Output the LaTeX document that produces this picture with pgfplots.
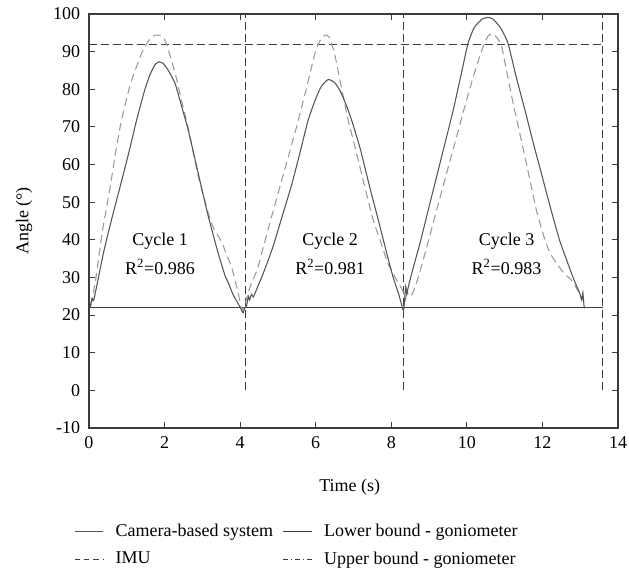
\documentclass[border=0pt]{standalone}
\usepackage{fontspec}
\setmainfont{Liberation Serif}
\usepackage{pgfplots}
\pgfplotsset{compat=1.18}
\definecolor{cam}{HTML}{555555}
\definecolor{imu}{HTML}{9A9A9A}
\definecolor{axc}{HTML}{3C3C3C}
\newcommand{\fs}{\fontsize{13.5}{16}\selectfont}
\begin{document}
\fs
\begin{tikzpicture}
\begin{axis}[
  scale only axis, width=396.75pt, height=310.5pt,
  xmin=0, xmax=14, ymin=-10, ymax=100,
  xtick={0,2,...,14}, ytick={-10,0,...,100},
  tick align=inside, major tick length=4.5pt,
  axis line style={axc, line width=0.9pt},
  tick style={axc, line width=0.8pt},
  /pgf/number format/assume math mode=true,
  ticklabel style={font=\fs},
  yticklabel style={xshift=-2pt},
  xticklabel style={yshift=-2pt},
  xlabel={Time (s)}, ylabel={Angle (°)},
  label style={font=\fs},
  xlabel style={at={(axis description cs:0.493,-0.1425)}, anchor=center},
  ylabel style={at={(axis description cs:-0.1229,0.5)}, anchor=center},
  legend columns=2,
  legend cell align=left,
  legend style={draw=none, fill=none, at={(axis description cs:-0.036,-0.218)}, anchor=north west, font=\fs,
    /tikz/every odd column/.append style={column sep=7pt},
    /tikz/every even column/.append style={column sep=5pt},
    row sep=5.5pt},
  legend image code/.code={\draw[#1] (0cm,0cm) -- (0.75cm,0cm);},
]
\addlegendimage{cam, line width=0.8pt}
\addlegendentry{Camera-based system}
\addlegendimage{axc, line width=0.8pt}
\addlegendentry{Lower bound - goniometer}
\addlegendimage{axc, line width=0.8pt, dash pattern=on 4pt off 3pt}
\addlegendentry{IMU}
\addlegendimage{axc, line width=0.8pt, dash pattern=on 4pt off 2pt on 1pt off 2pt}
\addlegendentry{Upper bound - goniometer}

% bounds and cycle separators
\addplot[forget plot, axc, line width=0.9pt] coordinates {(0,22) (13.6,22)};
\addplot[forget plot, axc, line width=0.9pt, dash pattern=on 6pt off 3pt] coordinates {(0,92) (13.6,92)};
\addplot[forget plot, axc, line width=0.9pt, dash pattern=on 6pt off 3pt] coordinates {(4.15,0) (4.15,100)};
\addplot[forget plot, axc, line width=0.9pt, dash pattern=on 6pt off 3pt] coordinates {(8.32,0) (8.32,100)};
\addplot[forget plot, axc, line width=0.9pt, dash pattern=on 6pt off 3pt] coordinates {(13.6,0) (13.6,100)};

% IMU
\addplot[forget plot, imu, line width=0.8pt, dash pattern=on 6pt off 3.5pt, smooth, tension=0.3] coordinates {
(0.05,22.5) (0.1,25.0) (0.2,31.0) (0.35,42.0) (0.56,54.0) (0.7,63.0) (0.86,71.8) (1.1,81.5) (1.39,89.5)
(1.6,93.2) (1.75,94.4) (1.88,94.3) (1.98,93.6) (2.07,91.5) (2.28,84.3) (2.45,77.0) (2.63,69.5) (2.89,57.0)
(3.05,51.0) (3.16,47.0) (3.3,43.0) (3.51,39.5) (3.65,35.8) (3.77,32.9) (3.87,29.0) (3.95,25.8) (4.02,22.5)
(4.07,21.3) (4.12,22.5) (4.2,25.5) (4.3,28.5) (4.45,32.0) (4.57,36.4) (4.8,45.0) (5.05,54.0) (5.3,63.0)
(5.54,71.8) (5.76,80.5) (5.98,89.5) (6.12,93.0) (6.25,94.4) (6.35,94.0) (6.42,92.0) (6.51,89.0) (6.68,80.5)
(6.86,71.8) (7.08,63.0) (7.3,54.0) (7.52,45.3) (7.7,40.0) (7.9,34.0) (8.1,30.0) (8.25,27.5) (8.35,25.5)
(8.38,24.0) (8.41,27.0) (8.45,25.0) (8.55,25.5) (8.72,30.2) (8.95,38.5) (9.2,47.9) (9.44,56.8) (9.68,65.6)
(9.92,74.5) (10.17,83.3) (10.4,90.5) (10.55,94.0) (10.65,94.7) (10.75,94.2) (10.85,93.0) (10.92,91.5)
(11.0,87.5) (11.22,76.5) (11.45,66.0) (11.65,56.8) (11.84,47.9) (12.05,40.5) (12.2,36.5) (12.37,33.8)
(12.58,31.0) (12.75,29.5) (12.88,27.5) (13.0,25.5) (13.08,24.0)
};

% Camera-based system
\addplot[forget plot, cam, line width=0.8pt, smooth, tension=0.3] coordinates {
(0.03,22.0) (0.08,24.5) (0.12,23.8) (0.2,27.5) (0.38,36.4) (0.6,45.5) (0.82,54.0) (1.05,63.0) (1.26,71.8)
(1.48,80.0) (1.62,84.0) (1.75,86.6) (1.86,87.3) (1.97,86.8) (2.1,85.0) (2.28,81.5) (2.45,75.5) (2.63,69.0)
(2.89,57.7) (3.16,46.1) (3.42,36.4) (3.6,30.5) (3.69,28.5) (3.82,25.3) (3.95,23.0) (4.04,21.2) (4.08,20.6)
(4.12,21.8) (4.17,22.5) (4.22,25.0) (4.25,24.0) (4.3,25.5) (4.35,24.8) (4.45,27.2) (4.6,30.8) (4.75,34.8) (4.88,38.5)
(5.12,46.5) (5.36,54.5) (5.58,63.0) (5.8,71.8) (6.0,77.5) (6.15,80.8) (6.33,82.6) (6.5,81.8) (6.65,79.5)
(6.82,75.5) (6.95,71.8) (7.17,64.5) (7.43,54.0) (7.65,45.5) (7.88,36.4) (8.05,30.0) (8.2,25.5) (8.32,21.2)
(8.36,25.0) (8.38,27.5) (8.41,25.5) (8.44,27.0) (8.5,29.5) (8.62,34.0) (8.76,39.1) (8.98,48.0) (9.2,56.8)
(9.42,65.6) (9.64,74.5) (9.85,84.0) (10.03,92.2) (10.2,96.5) (10.4,98.6) (10.56,99.1) (10.7,98.6)
(10.9,96.2) (11.09,92.2) (11.3,83.5) (11.55,74.0) (11.75,66.0) (11.95,58.5) (12.2,49.0) (12.45,40.0)
(12.7,33.0) (12.85,29.0) (12.98,26.0) (13.04,24.0) (13.07,26.0) (13.1,22.5) (13.12,21.8)
};

\node[font=\fs] at (axis cs:1.88,39.5) {Cycle 1};
\node[font=\fs] at (axis cs:1.88,32.9) {R\textsuperscript{2}=0.986};
\node[font=\fs] at (axis cs:6.38,39.5) {Cycle 2};
\node[font=\fs] at (axis cs:6.38,32.9) {R\textsuperscript{2}=0.981};
\node[font=\fs] at (axis cs:11.05,39.5) {Cycle 3};
\node[font=\fs] at (axis cs:11.05,32.9) {R\textsuperscript{2}=0.983};
\coordinate (SW) at (rel axis cs:0,0);
\coordinate (NE) at (rel axis cs:1,1);
\end{axis}
\pgfresetboundingbox
\path[use as bounding box] ([xshift=-66.75pt,yshift=-109.5pt]SW) rectangle ([xshift=8.25pt,yshift=10.5pt]NE);
\end{tikzpicture}
\end{document}
